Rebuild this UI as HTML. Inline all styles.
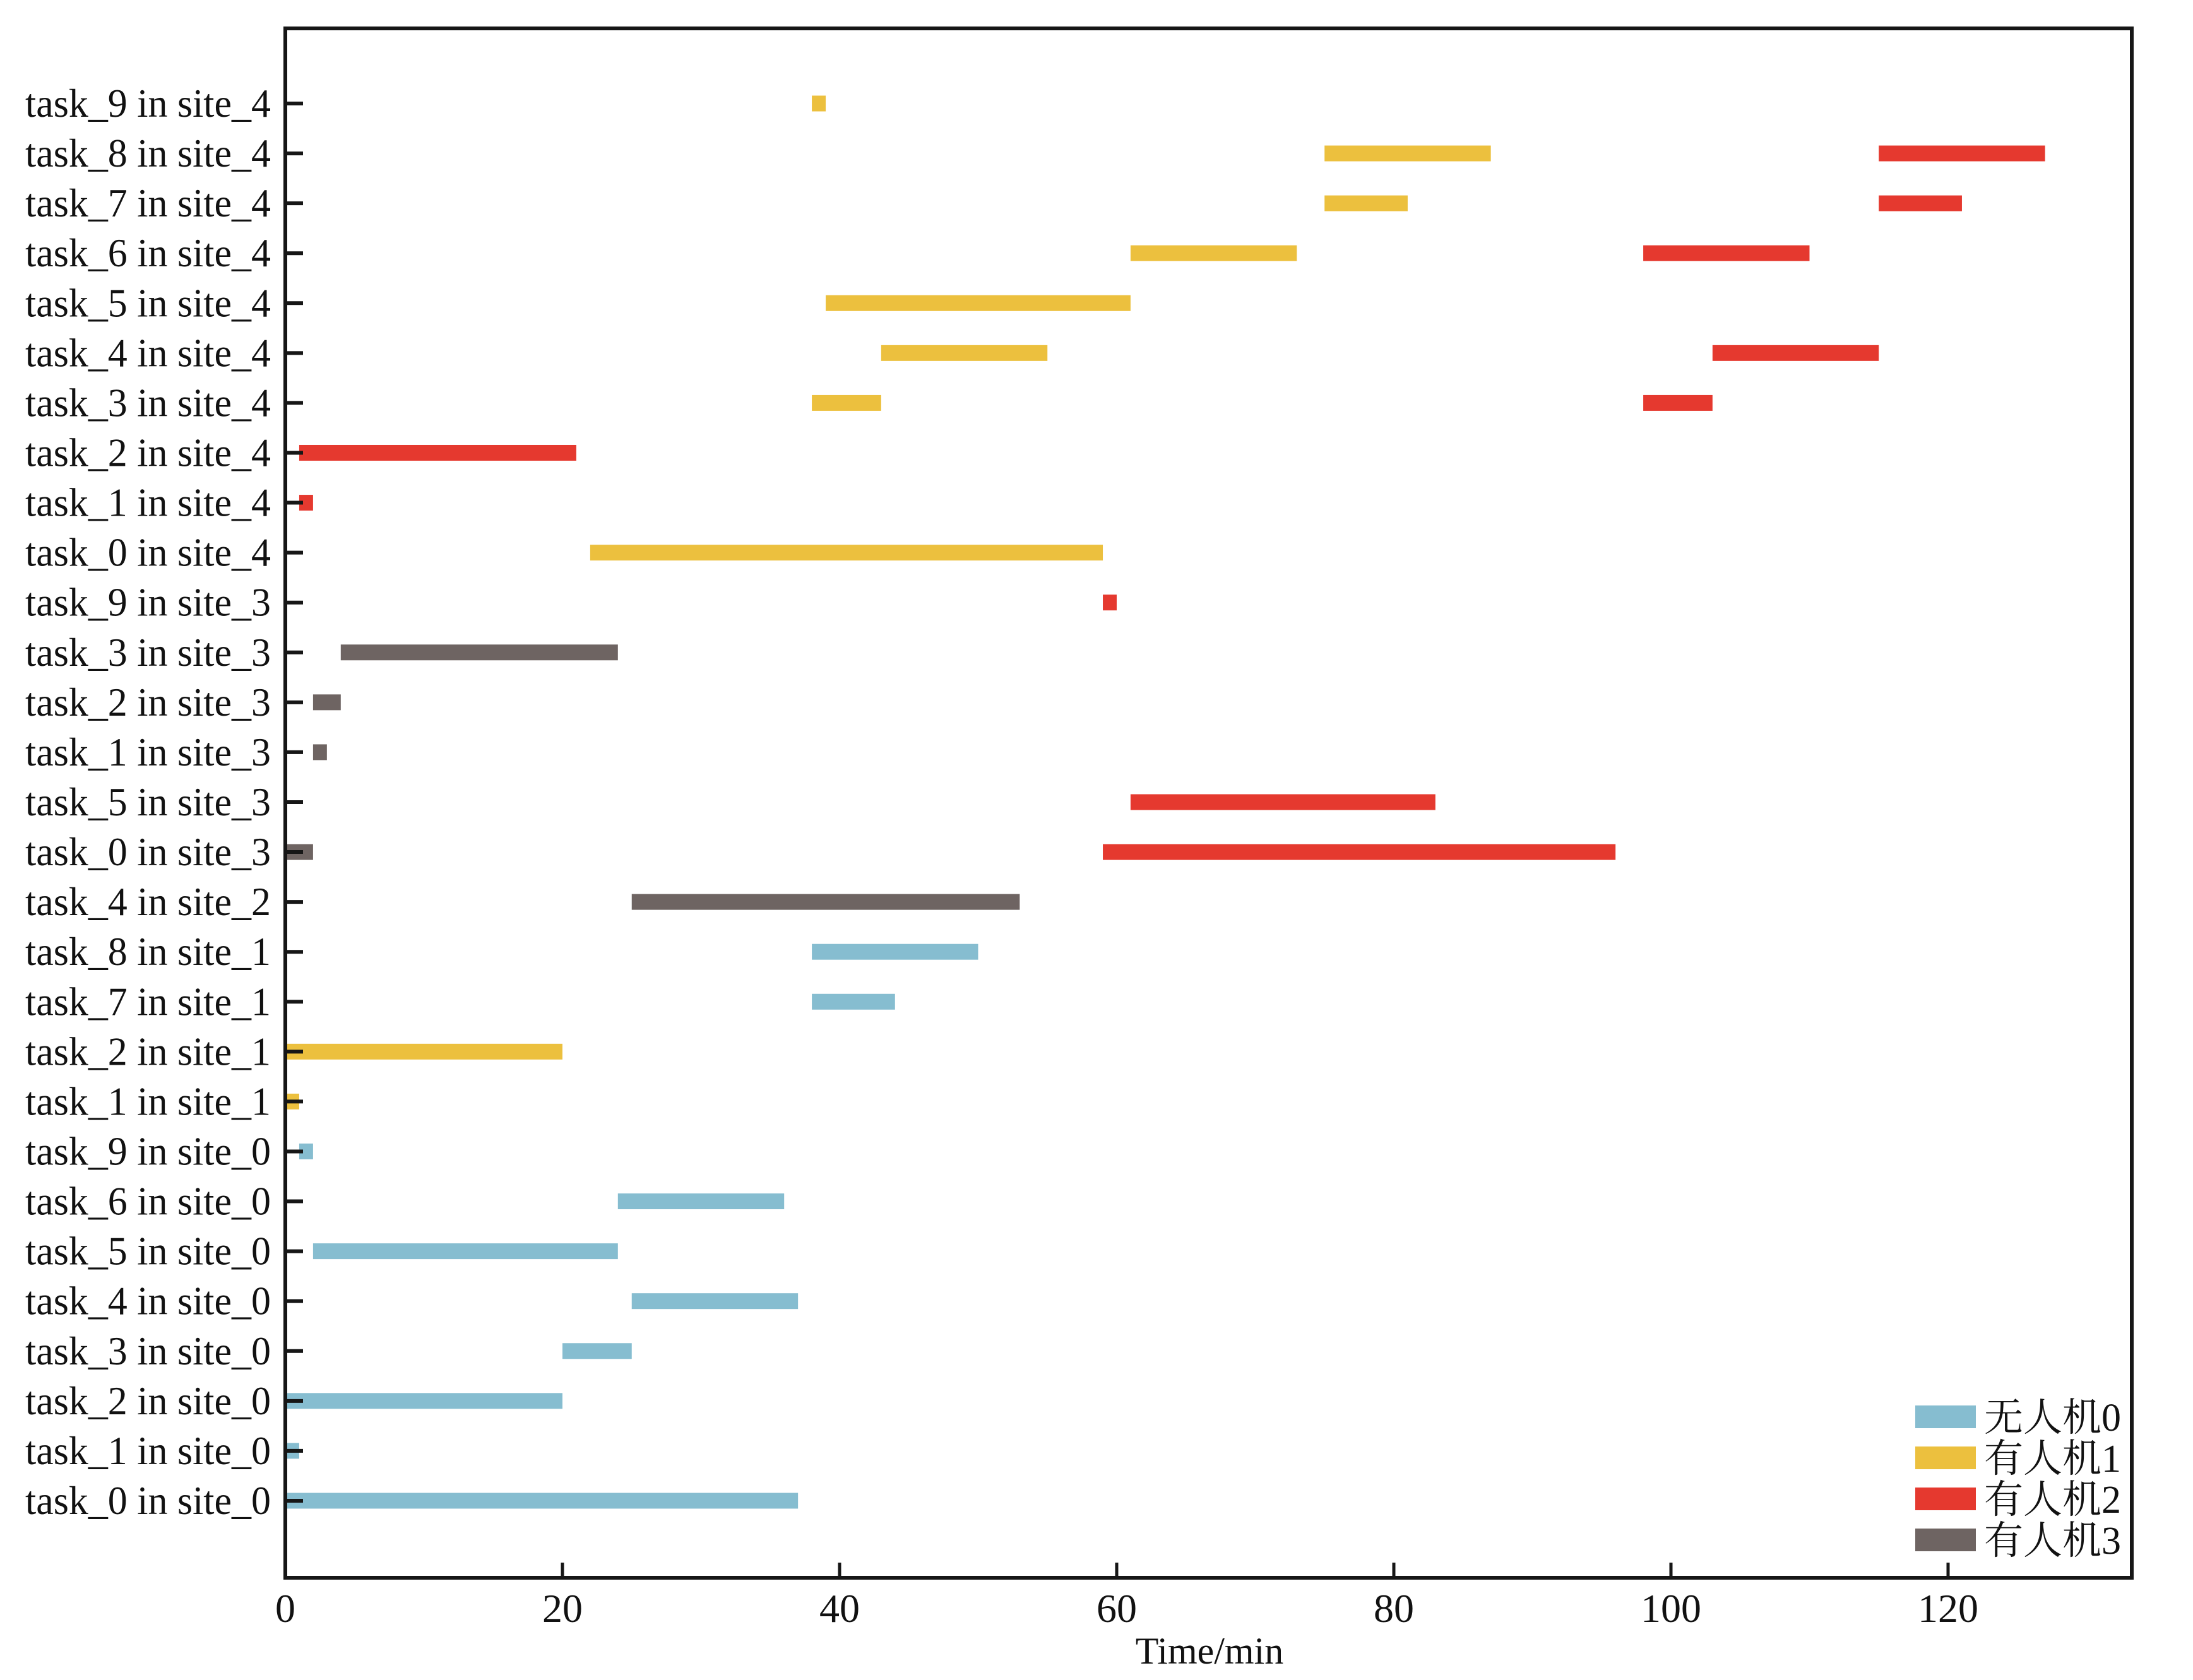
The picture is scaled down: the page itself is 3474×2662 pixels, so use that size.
<!DOCTYPE html>
<html><head><meta charset="utf-8"><style>
html,body{margin:0;padding:0;background:#fff;}
svg{display:block;}
text{font-family:"Liberation Serif","Noto Serif CJK SC",serif;fill:#111;}
</style></head><body>
<svg id="chart" width="3474" height="2662" viewBox="0 0 3474 2662" xmlns="http://www.w3.org/2000/svg">
<g id="bars"></g>
<g id="axes"></g>
<g id="legend"></g>
</svg>
<script>
const rowLabels = ["task_9 in site_4","task_8 in site_4","task_7 in site_4","task_6 in site_4","task_5 in site_4","task_4 in site_4","task_3 in site_4","task_2 in site_4","task_1 in site_4","task_0 in site_4","task_9 in site_3","task_3 in site_3","task_2 in site_3","task_1 in site_3","task_5 in site_3","task_0 in site_3","task_4 in site_2","task_8 in site_1","task_7 in site_1","task_2 in site_1","task_1 in site_1","task_9 in site_0","task_6 in site_0","task_5 in site_0","task_4 in site_0","task_3 in site_0","task_2 in site_0","task_1 in site_0","task_0 in site_0"];
const seriesNames = ["无人机0","有人机1","有人机2","有人机3"];
const seriesColors = ["#86bdd0","#ecc03e","#e5392f","#6e6462"];
const taskRows   = [0,1,1,2,2,3,3,4,5,5,6,6,7,8,9,10,11,12,13,14,15,15,16,17,18,19,20,21,22,23,24,25,26,27,28];
const taskSeries = [1,1,2,1,2,1,2,1,1,2,1,2,2,2,1,2,3,3,3,2,3,2,3,0,0,1,1,0,0,0,0,0,0,0,0];
const taskStart  = [38,75,115,75,115,61,98,39,43,103,38,98,1,1,22,59,4,2,2,61,0,59,25,38,38,0,0,1,24,2,25,20,0,0,0];
const taskEnd    = [39,87,127,81,121,73,110,61,55,115,43,103,21,2,59,60,24,4,3,83,2,96,53,50,44,20,1,2,36,24,37,25,20,1,37];
const xTicks = [0,20,40,60,80,100,120];

const NS="http://www.w3.org/2000/svg";
const L=452,R=3377,T=45,B=2500;
const pxPerMin=21.95;
const xs=v=>L+v*pxPerMin;
const y0=164,dy=79.07;
const ys=i=>y0+i*dy;
const barH=25;
function mk(tag,attrs,parent){const e=document.createElementNS(NS,tag);for(const k in attrs)e.setAttribute(k,attrs[k]);parent.appendChild(e);return e;}
const bars=document.getElementById('bars'),axes=document.getElementById('axes'),legend=document.getElementById('legend');

for(let i=0;i<taskRows.length;i++){
  const r=mk('rect',{x:xs(taskStart[i]),y:ys(taskRows[i])-barH/2,width:xs(taskEnd[i])-xs(taskStart[i]),height:barH,fill:seriesColors[taskSeries[i]]},bars);
  
  
}
const fr=mk('rect',{x:L,y:T,width:R-L,height:B-T,fill:'none',stroke:'#161616','stroke-width':6},axes);


rowLabels.forEach((lab,i)=>{
  const t=mk('line',{x1:L,x2:L+28,y1:ys(i),y2:ys(i),stroke:'#161616','stroke-width':6},axes);
  
  
  const tx=mk('text',{x:429,y:ys(i)+21,'text-anchor':'end','font-size':64,textLength:389,lengthAdjust:'spacingAndGlyphs'},axes);
  tx.textContent=lab;
  
  
});
xTicks.forEach(v=>{
  const t=mk('line',{x1:xs(v),x2:xs(v),y1:B,y2:B-24,stroke:'#161616','stroke-width':5},axes);
  
  
  const tx=mk('text',{x:xs(v),y:2570,'text-anchor':'middle','font-size':64},axes);
  tx.textContent=String(v);
  
  
});
const xt=mk('text',{x:1916,y:2636,'text-anchor':'middle','font-size':60},axes);
xt.textContent='Time/min';


const legY=[2245,2310,2375,2440];
seriesNames.forEach((n,i)=>{
  const p=mk('rect',{x:3034,y:legY[i]-18,width:96,height:36,fill:seriesColors[i]},legend);
  
  
  const tx=mk('text',{x:3143,y:legY[i]+22,'font-size':62},legend);
  tx.textContent=n;
  
  
});
</script>
</body></html>
